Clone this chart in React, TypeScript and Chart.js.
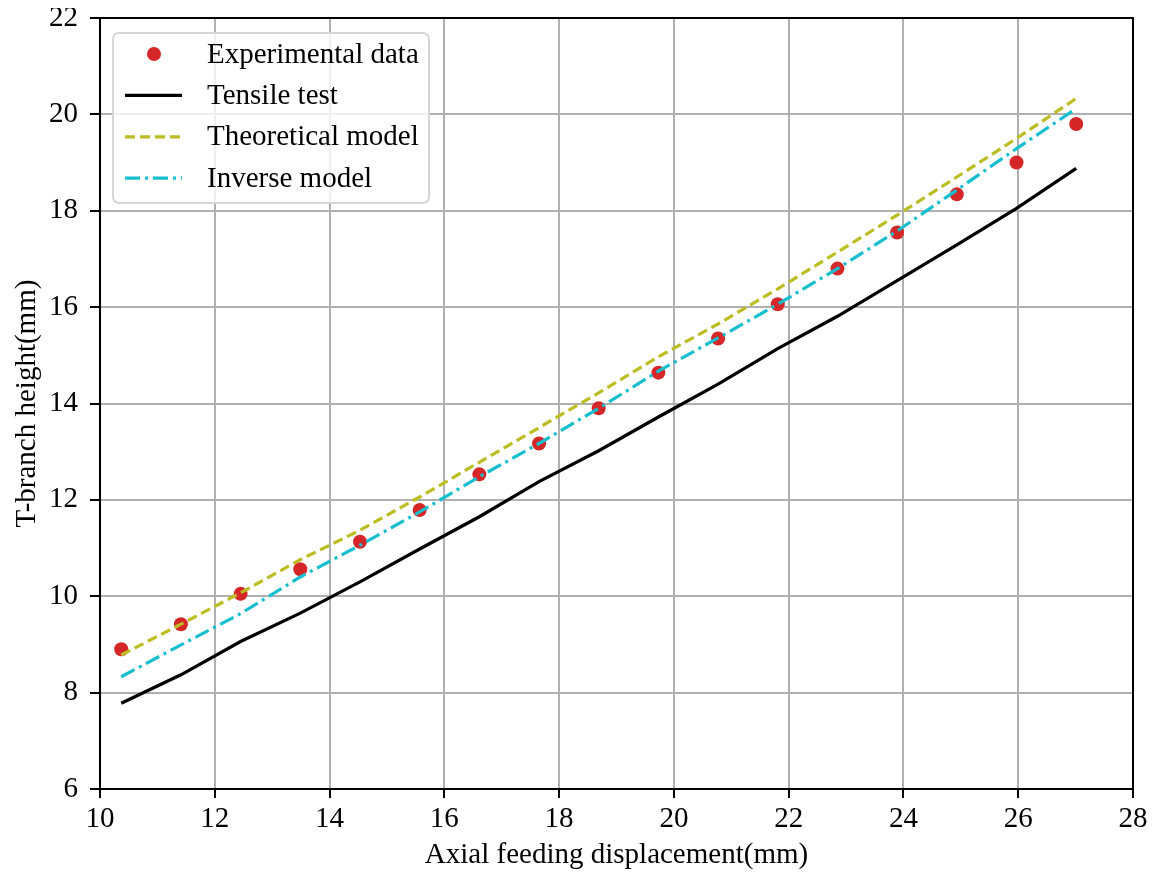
import React, { useEffect, useRef } from "react";
import { Chart, registerables } from "chart.js";

Chart.register(...registerables);

// ---- data ----
const feedDisplacement = [10.37, 11.41, 12.45, 13.49, 14.53, 15.57, 16.61, 17.65, 18.69, 19.73, 20.77, 21.81, 22.85, 23.89, 24.93, 25.97, 27.01];
const experimentalData = [8.90, 9.42, 10.05, 10.56, 11.13, 11.79, 12.53, 13.17, 13.90, 14.64, 15.35, 16.06, 16.80, 17.55, 18.34, 19.00, 19.80];
const tensileTest = [7.78, 8.37, 9.06, 9.65, 10.30, 10.98, 11.65, 12.38, 13.02, 13.72, 14.40, 15.14, 15.81, 16.55, 17.29, 18.05, 18.88];
const theoreticalModel = [8.78, 9.42, 10.07, 10.76, 11.37, 12.06, 12.78, 13.50, 14.22, 14.97, 15.65, 16.38, 17.14, 17.91, 18.70, 19.50, 20.33];
const inverseModel = [8.33, 8.99, 9.64, 10.40, 11.06, 11.75, 12.48, 13.17, 13.90, 14.67, 15.36, 16.06, 16.80, 17.58, 18.43, 19.29, 20.12];

const seriesLabels = ["Experimental data", "Tensile test", "Theoretical model", "Inverse model"];
const xTitle = "Axial feeding displacement(mm)";
const yTitle = "T-branch height(mm)";

const FONT = "'Liberation Serif', 'Times New Roman', Times, serif";
const FS = 29;

const toPoints = (ys: number[]) => ys.map((y, i) => ({ x: feedDisplacement[i], y }));

const framePlugin = {
  id: "frame",
  afterDraw(chart: any) {
    const { ctx, chartArea } = chart;
    ctx.save();
    ctx.strokeStyle = "#000";
    ctx.lineWidth = 2;
    ctx.strokeRect(chartArea.left, chartArea.top, chartArea.right - chartArea.left, chartArea.bottom - chartArea.top);
    ctx.restore();
  },
};

const insideLegendPlugin = {
  id: "insideLegend",
  afterDraw(chart: any) {
    const { ctx, chartArea } = chart;
    const x0 = chartArea.left + 13;
    const y0 = chartArea.top + 15;
    const w = 316;
    const h = 170;
    ctx.save();
    ctx.beginPath();
    if ((ctx as any).roundRect) (ctx as any).roundRect(x0, y0, w, h, 6);
    else ctx.rect(x0, y0, w, h);
    ctx.fillStyle = "rgba(255,255,255,0.8)";
    ctx.fill();
    ctx.lineWidth = 2;
    ctx.strokeStyle = "#d6d6d6";
    ctx.stroke();

    const order = [0, 1, 2, 3];
    order.forEach((di, i) => {
      const ds = chart.data.datasets[di];
      const cy = y0 + 21 + i * 41.4;
      if (ds.showLine === false) {
        ctx.beginPath();
        ctx.arc(x0 + 41, cy, ds.pointRadius, 0, Math.PI * 2);
        ctx.fillStyle = ds.pointBackgroundColor;
        ctx.fill();
      } else {
        ctx.beginPath();
        ctx.setLineDash(ds.borderDash || []);
        ctx.lineWidth = ds.borderWidth;
        ctx.strokeStyle = ds.borderColor;
        ctx.moveTo(x0 + 12, cy);
        ctx.lineTo(x0 + 69, cy);
        ctx.stroke();
        ctx.setLineDash([]);
      }
      ctx.fillStyle = "#000";
      ctx.font = `${FS}px ${FONT}`;
      ctx.textBaseline = "middle";
      ctx.textAlign = "left";
      ctx.fillText(ds.label, x0 + 94, cy + 1);
    });
    ctx.restore();
  },
};

export default function App() {
  const canvasRef = useRef<HTMLCanvasElement | null>(null);

  useEffect(() => {
    if (!canvasRef.current) return;
    Chart.defaults.font.family = FONT;
    Chart.defaults.color = "#000";

    const chart = new Chart(canvasRef.current, {
      type: "line",
      data: {
        datasets: [
          {
            label: seriesLabels[0],
            data: toPoints(experimentalData),
            showLine: false,
            pointRadius: 7,
            pointBackgroundColor: "#d62728",
            pointBorderWidth: 0,
            borderColor: "#d62728",
            order: 4,
          },
          {
            label: seriesLabels[1],
            data: toPoints(tensileTest),
            borderColor: "#000000",
            borderWidth: 3.2,
            pointRadius: 0,
            tension: 0,
            order: 3,
          },
          {
            label: seriesLabels[2],
            data: toPoints(theoreticalModel),
            borderColor: "#bcbd22",
            borderWidth: 3.2,
            borderDash: [10, 5],
            pointRadius: 0,
            tension: 0,
            order: 2,
          },
          {
            label: seriesLabels[3],
            data: toPoints(inverseModel),
            borderColor: "#17becf",
            borderWidth: 3.2,
            borderDash: [15, 5, 3, 5],
            pointRadius: 0,
            tension: 0,
            order: 1,
          },
        ] as any,
      },
      options: {
        animation: false,
        responsive: true,
        maintainAspectRatio: false,
        layout: { padding: { left: 0, top: 10, right: 15, bottom: 0 } },
        plugins: {
          legend: { display: false },
          tooltip: { enabled: false },
        },
        scales: {
          x: {
            type: "linear",
            min: 10,
            max: 28,
            afterFit: (s: any) => {
              s.height = 81;
              s.paddingLeft = 0;
              s.paddingRight = 0;
            },
            ticks: { stepSize: 2, font: { size: FS, family: FONT }, color: "#000", padding: 4, maxRotation: 0 },
            grid: { color: "#b0b0b0", lineWidth: 2, drawTicks: true, tickLength: 9, tickColor: "#000", tickWidth: 2 },
            border: { display: false },
            title: { display: true, text: xTitle, font: { size: FS, family: FONT, lineHeight: 1 }, color: "#000", padding: { top: 0, bottom: 0 } },
          },
          y: {
            type: "linear",
            min: 6,
            max: 22,
            afterFit: (s: any) => {
              s.width = 92;
              s.paddingTop = 0;
              s.paddingBottom = 0;
            },
            ticks: { stepSize: 2, font: { size: FS, family: FONT }, color: "#000", padding: 12 },
            grid: { color: "#b0b0b0", lineWidth: 2, drawTicks: true, tickLength: 10, tickColor: "#000", tickWidth: 2 },
            border: { display: false },
            title: { display: true, text: yTitle, font: { size: FS, family: FONT, lineHeight: 1 }, color: "#000", padding: { top: 5, bottom: 0 } },
          },
        },
      },
      plugins: [framePlugin, insideLegendPlugin],
    });

    return () => chart.destroy();
  }, []);

  return (
    <div style={{ position: "relative", width: 1140, height: 862 }}>
      <canvas ref={canvasRef} />
    </div>
  );
}
